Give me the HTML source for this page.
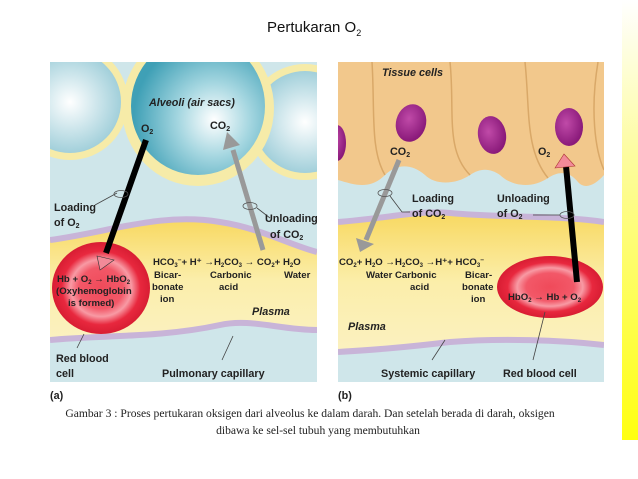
<!DOCTYPE html>
<html><head><meta charset="utf-8"><style>
html,body{margin:0;padding:0;background:#fff;width:638px;height:479px;overflow:hidden}
svg{display:block}
.t{font-family:"Liberation Sans",Arial,sans-serif;font-weight:bold;font-size:10.8px;fill:#222}
.e{font-size:9.6px}
.i{font-style:italic}
</style></head><body>
<svg width="638" height="479" viewBox="0 0 638 479" xmlns="http://www.w3.org/2000/svg">
<defs>
<linearGradient id="ys" x1="0" y1="0" x2="0" y2="1"><stop offset="0" stop-color="#fff"/><stop offset="0.35" stop-color="#fdfca0"/><stop offset="1" stop-color="#ffff10"/></linearGradient>
<radialGradient id="alv" cx="0.62" cy="0.6" r="0.6"><stop offset="0" stop-color="#ffffff"/><stop offset="0.45" stop-color="#a4d6e0"/><stop offset="1" stop-color="#3fa0b6"/></radialGradient>
<radialGradient id="alv2" cx="0.5" cy="0.5" r="0.6"><stop offset="0" stop-color="#ffffff"/><stop offset="1" stop-color="#8fc6d3"/></radialGradient>
<radialGradient id="rbc" cx="0.5" cy="0.5" r="0.5"><stop offset="0" stop-color="#f04a5a"/><stop offset="0.45" stop-color="#f25868"/><stop offset="0.62" stop-color="#f89aa4"/><stop offset="0.8" stop-color="#e8283e"/><stop offset="1" stop-color="#d81d33"/></radialGradient>
<linearGradient id="pl" x1="0" y1="0" x2="0" y2="1"><stop offset="0" stop-color="#f8d860"/><stop offset="0.5" stop-color="#fbeeaa"/><stop offset="1" stop-color="#fbf1c0"/></linearGradient>
<radialGradient id="nuc" cx="0.4" cy="0.4" r="0.6"><stop offset="0" stop-color="#c04aa8"/><stop offset="1" stop-color="#8a1a7a"/></radialGradient>
<clipPath id="ca"><rect x="50" y="62" width="267" height="320"/></clipPath>
<clipPath id="cb"><rect x="338" y="62" width="266" height="320"/></clipPath>
</defs>
<rect x="622" y="0" width="16" height="440" fill="url(#ys)"/>
<text x="267" y="32" font-family="Liberation Sans,Arial,sans-serif" font-size="15" fill="#111">Pertukaran O<tspan font-size="9" dy="4">2</tspan></text>

<!-- Panel A -->
<g clip-path="url(#ca)">
<rect x="50" y="62" width="267" height="320" fill="#cfe6ea"/>
<circle cx="70" cy="102" r="58" fill="#f6eba8"/><circle cx="70" cy="102" r="51" fill="url(#alv2)"/>
<circle cx="305" cy="122" r="58" fill="#f6eba8"/><circle cx="305" cy="122" r="51" fill="url(#alv2)"/>
<ellipse cx="198" cy="108" rx="76" ry="78" fill="#f6eba8"/>
<ellipse cx="198" cy="106" rx="67" ry="69" fill="url(#alv)"/>
<path d="M50,240 C110,232 160,212 220,222 C260,228 290,245 317,252 L317,330 C280,330 250,318 220,325 C160,338 100,335 50,340Z" fill="url(#pl)"/>
<path d="M50,240 C110,232 160,212 220,222 C260,228 290,245 317,252" fill="none" stroke="#c8b4d8" stroke-width="6"/>
<path d="M317,330 C280,330 250,318 220,325 C160,338 100,335 50,340" fill="none" stroke="#c8b4d8" stroke-width="6"/>
<ellipse cx="101" cy="288" rx="49" ry="46" fill="url(#rbc)"/>
<line x1="146" y1="140" x2="106" y2="253" stroke="#000" stroke-width="6"/>
<polygon points="97,256 114,260 100,270" fill="#f28a98" stroke="#333" stroke-width="0.6"/>
<line x1="263" y1="250" x2="233" y2="150" stroke="#999" stroke-width="5"/>
<polygon points="223,150 240,145 227,132" fill="#999"/>
</g>
<ellipse cx="121" cy="194" rx="7" ry="3.5" fill="none" stroke="#555" stroke-width="0.8"/>
<ellipse cx="250" cy="206" rx="7" ry="3.5" fill="none" stroke="#555" stroke-width="0.8"/>
<path d="M95,205 L117,193 M257,208 L270,218 M84,334 L77,348 M233,336 L222,360" stroke="#444" stroke-width="0.8" fill="none"/>
<text class="t i" x="149" y="106">Alveoli (air sacs)</text>
<text class="t" x="141" y="132">O<tspan font-size="7" dy="2">2</tspan></text>
<text class="t" x="210" y="129">CO<tspan font-size="7" dy="2">2</tspan></text>
<text class="t" x="54" y="211">Loading</text>
<text class="t" x="54" y="226">of O<tspan font-size="7" dy="2">2</tspan></text>
<text class="t" x="265" y="222">Unloading</text>
<text class="t" x="270" y="238">of CO<tspan font-size="7" dy="2">2</tspan></text>
<text class="t e" x="153" y="265">HCO<tspan font-size="6" dy="2">3</tspan><tspan dy="-5" font-size="6.5">−</tspan><tspan dy="3">+ H⁺ →H</tspan><tspan font-size="6" dy="2">2</tspan><tspan dy="-2">CO</tspan><tspan font-size="6" dy="2">3</tspan><tspan dy="-2"> → CO</tspan><tspan font-size="6" dy="2">2</tspan><tspan dy="-2">+ H</tspan><tspan font-size="6" dy="2">2</tspan><tspan dy="-2">O</tspan></text>
<text class="t e" x="154" y="278">Bicar-</text><text class="t e" x="152" y="290">bonate</text><text class="t e" x="160" y="302">ion</text>
<text class="t e" x="210" y="278">Carbonic</text><text class="t e" x="219" y="290">acid</text>
<text class="t e" x="284" y="278">Water</text>
<text class="t i" x="252" y="315">Plasma</text>
<text class="t e" x="57" y="282">Hb + O<tspan font-size="6" dy="2">2</tspan><tspan dy="-2"> → HbO</tspan><tspan font-size="6" dy="2">2</tspan></text>
<text class="t e" x="56" y="294">(Oxyhemoglobin</text>
<text class="t e" x="68" y="306">is formed)</text>
<text class="t" x="56" y="362">Red blood</text>
<text class="t" x="56" y="377">cell</text>
<text class="t" x="162" y="377">Pulmonary capillary</text>
<text class="t" x="50" y="399" font-size="11.5">(a)</text>

<!-- Panel B -->
<g clip-path="url(#cb)">
<rect x="338" y="62" width="266" height="320" fill="#cfe6ea"/>
<path d="M338,62 L604,62 L604,175 C595,185 585,190 578,182 C570,172 560,170 548,178 C530,190 510,185 500,175 C490,168 480,168 470,175 C455,185 435,185 425,175 C410,162 395,165 385,175 C370,190 355,185 338,180Z" fill="#f2c88c"/>
<path d="M372,62 C375,110 370,150 385,175 M450,62 C455,110 445,150 470,175 M525,62 C530,110 525,150 548,178 M598,62 C590,110 595,150 604,170" stroke="#d9a868" stroke-width="1.5" fill="none"/>
<ellipse cx="337" cy="143" rx="9" ry="18" fill="url(#nuc)"/>
<ellipse cx="411" cy="123" rx="15" ry="19" transform="rotate(15 411 123)" fill="url(#nuc)"/>
<ellipse cx="492" cy="135" rx="14" ry="19" transform="rotate(-10 492 135)" fill="url(#nuc)"/>
<ellipse cx="569" cy="127" rx="14" ry="19" fill="url(#nuc)"/>
<path d="M338,222 C390,218 420,210 450,213 C500,218 560,215 604,222 L604,345 C560,340 500,338 450,342 C400,348 370,350 338,352Z" fill="url(#pl)"/>
<path d="M338,222 C390,218 420,210 450,213 C500,218 560,215 604,222" fill="none" stroke="#c8b4d8" stroke-width="6"/>
<path d="M604,345 C560,340 500,338 450,342 C400,348 370,350 338,352" fill="none" stroke="#c8b4d8" stroke-width="6"/>
<ellipse cx="550" cy="287" rx="53" ry="31" fill="url(#rbc)"/>
<line x1="577" y1="282" x2="566" y2="166" stroke="#000" stroke-width="6"/>
<polygon points="555,168 575,166 564,154" fill="#f28a98" stroke="#a33" stroke-width="0.6"/>
<line x1="399" y1="160" x2="366" y2="240" stroke="#999" stroke-width="5"/>
<polygon points="356,238 374,244 360,252" fill="#999"/>
</g>
<ellipse cx="385" cy="193" rx="7" ry="3.5" fill="none" stroke="#555" stroke-width="0.8"/>
<ellipse cx="567" cy="215" rx="7" ry="3.5" fill="none" stroke="#555" stroke-width="0.8"/>
<path d="M390,196 L402,212 L410,212 M533,215 L560,215 M545,312 L533,360 M445,340 L432,360" stroke="#444" stroke-width="0.8" fill="none"/>
<text class="t i" x="382" y="76">Tissue cells</text>
<text class="t" x="390" y="155">CO<tspan font-size="7" dy="2">2</tspan></text>
<text class="t" x="538" y="155">O<tspan font-size="7" dy="2">2</tspan></text>
<text class="t" x="412" y="202">Loading</text>
<text class="t" x="412" y="217">of CO<tspan font-size="7" dy="2">2</tspan></text>
<text class="t" x="497" y="202">Unloading</text>
<text class="t" x="497" y="217">of O<tspan font-size="7" dy="2">2</tspan></text>
<text class="t e" x="339" y="265">CO<tspan font-size="6" dy="2">2</tspan><tspan dy="-2">+ H</tspan><tspan font-size="6" dy="2">2</tspan><tspan dy="-2">O →H</tspan><tspan font-size="6" dy="2">2</tspan><tspan dy="-2">CO</tspan><tspan font-size="6" dy="2">3</tspan><tspan dy="-2"> →H⁺+ HCO</tspan><tspan font-size="6" dy="2">3</tspan><tspan font-size="6.5" dy="-5">−</tspan></text>
<text class="t e" x="366" y="278">Water Carbonic</text>
<text class="t e" x="410" y="290">acid</text>
<text class="t e" x="465" y="278">Bicar-</text><text class="t e" x="462" y="290">bonate</text><text class="t e" x="471" y="302">ion</text>
<text class="t e" x="508" y="300">HbO<tspan font-size="6" dy="2">2</tspan><tspan dy="-2"> → Hb + O</tspan><tspan font-size="6" dy="2">2</tspan></text>
<text class="t i" x="348" y="330">Plasma</text>
<text class="t" x="381" y="377">Systemic capillary</text>
<text class="t" x="503" y="377">Red blood cell</text>
<text class="t" x="338" y="399" font-size="11.5">(b)</text>

<g font-family="Liberation Serif,Times New Roman,serif" font-size="11.6" fill="#222" text-anchor="middle">
<text x="310" y="417">Gambar 3 : Proses pertukaran oksigen dari alveolus ke dalam darah. Dan setelah berada di darah, oksigen</text>
<text x="318" y="434">dibawa ke sel-sel tubuh yang membutuhkan</text>
</g>
</svg>
</body></html>
